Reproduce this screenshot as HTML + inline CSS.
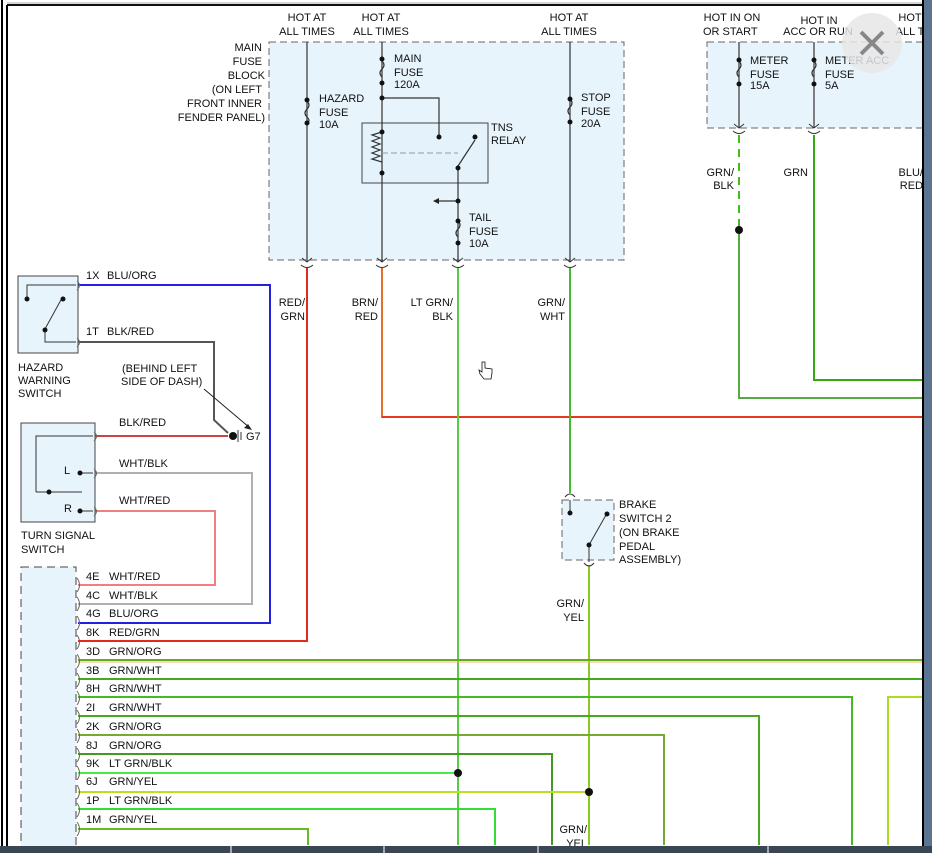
<!DOCTYPE html>
<html><head><meta charset="utf-8"><style>
html,body{margin:0;padding:0;background:#fff;width:932px;height:853px;overflow:hidden}
svg{display:block}
text{font-family:"Liberation Sans",sans-serif;font-size:11px;fill:#111}
</style></head><body>
<svg width="932" height="853" viewBox="0 0 932 853" xmlns="http://www.w3.org/2000/svg">
<rect x="0" y="0" width="932" height="853" fill="#fff"/>
<!-- frame -->
<line x1="2" y1="0" x2="2" y2="853" stroke="#000" stroke-width="2"/>
<line x1="7" y1="5" x2="7" y2="853" stroke="#000" stroke-width="2"/>
<line x1="7" y1="5" x2="932" y2="5" stroke="#111" stroke-width="2"/>
<line x1="7" y1="3" x2="932" y2="3" stroke="#aaa" stroke-width="1"/>

<!-- main fuse block -->
<rect x="269" y="42" width="355" height="218" fill="#e8f4fc" stroke="#666" stroke-dasharray="7,4"/>
<rect x="707" y="42" width="230" height="86" fill="#e8f4fc" stroke="#666" stroke-dasharray="7,4"/>
<rect x="362" y="123" width="126" height="60" fill="#e4f2fb" stroke="#444"/>

<g text-anchor="middle">
<text x="307" y="21">HOT AT</text><text x="307" y="35">ALL TIMES</text>
<text x="381" y="21">HOT AT</text><text x="381" y="35">ALL TIMES</text>
<text x="569" y="21">HOT AT</text><text x="569" y="35">ALL TIMES</text>
<text x="732" y="21">HOT IN ON</text>
<text x="819" y="24">HOT IN</text><text x="818" y="35">ACC OR RUN</text>
<text x="910" y="21">HOT</text><text x="910" y="35">ALL T</text>
</g>
<g text-anchor="end">
<text x="262" y="51">MAIN</text><text x="262" y="65">FUSE</text><text x="265" y="79">BLOCK</text>
<text x="262" y="93">(ON LEFT</text><text x="262" y="107">FRONT INNER</text><text x="265" y="121">FENDER PANEL)</text>
</g>
<text x="703" y="35">OR START</text>

<!-- inner wires -->
<g stroke="#333" stroke-width="1.2" fill="none">
<line x1="307" y1="42" x2="307" y2="262"/>
<line x1="382" y1="42" x2="382" y2="262"/>
<line x1="570" y1="42" x2="570" y2="262"/>
<line x1="458" y1="166" x2="458" y2="262"/>
<polyline points="382,98 439,98 439,137"/>
<line x1="458" y1="166" x2="475" y2="140"/>
<line x1="435" y1="201" x2="458" y2="201"/>
<line x1="739" y1="42" x2="739" y2="128"/>
<line x1="814" y1="42" x2="814" y2="128"/>
<path d="M382,132 l-10,3 l8,3 l-8,3 l8,3 l-8,3 l8,3 l-8,3 l8,3 l-8,3 l10,3"/>
<!-- fuses -->
<path d="M307,101 q4,4 0,8 q-4,4 0,8 q4,4 0,6"/>
<path d="M382,61 q4,4 0,8 q-4,4 0,8"/>
<path d="M458,221 q4,4 0,8 q-4,4 0,8"/>
<path d="M570,99 q4,4 0,8 q-4,4 0,8"/>
<path d="M739,61 q4,4 0,8 q-4,4 0,8"/>
<path d="M814,61 q4,4 0,8 q-4,4 0,8"/>
</g>
<line x1="382" y1="153" x2="458" y2="153" stroke="#999" stroke-dasharray="6,3"/>
<polygon points="433,201 439,198 439,204" fill="#222"/>
<g fill="#111">
<circle cx="307" cy="100" r="2.5"/><circle cx="307" cy="123" r="2.5"/>
<circle cx="382" cy="59" r="2.5"/><circle cx="382" cy="83" r="2.5"/><circle cx="382" cy="98" r="2.5"/>
<circle cx="382" cy="132" r="2.5"/><circle cx="382" cy="173" r="2.5"/>
<circle cx="439" cy="137" r="2.5"/><circle cx="475" cy="137" r="2.5"/><circle cx="458" cy="168" r="2.5"/>
<circle cx="458" cy="201" r="2.5"/><circle cx="458" cy="221" r="2.5"/><circle cx="458" cy="243" r="2.5"/>
<circle cx="570" cy="99" r="2.5"/><circle cx="570" cy="122" r="2.5"/>
<circle cx="739" cy="60" r="2.5"/><circle cx="739" cy="84" r="2.5"/>
<circle cx="814" cy="60" r="2.5"/><circle cx="814" cy="84" r="2.5"/>
</g>
<text x="319" y="102">HAZARD</text><text x="319" y="116">FUSE</text><text x="319" y="128">10A</text>
<text x="394" y="62">MAIN</text><text x="394" y="76">FUSE</text><text x="394" y="88">120A</text>
<text x="491" y="131">TNS</text><text x="491" y="144">RELAY</text>
<text x="469" y="221">TAIL</text><text x="469" y="235">FUSE</text><text x="469" y="247">10A</text>
<text x="581" y="101">STOP</text><text x="581" y="115">FUSE</text><text x="581" y="127">20A</text>
<text x="750" y="64">METER</text><text x="750" y="78">FUSE</text><text x="750" y="89">15A</text>
<text x="825" y="64">METER ACC</text><text x="825" y="78">FUSE</text><text x="825" y="89">5A</text>

<!-- connector symbols at block bottom -->
<g stroke="#333" fill="none" stroke-width="1">
<path d="M302,258 l5,4 l5,-4 M301,265 q6,5 12,0"/>
<path d="M377,258 l5,4 l5,-4 M376,265 q6,5 12,0"/>
<path d="M453,258 l5,4 l5,-4 M452,265 q6,5 12,0"/>
<path d="M565,258 l5,4 l5,-4 M564,265 q6,5 12,0"/>
<path d="M734,124 l5,4 l5,-4 M733,131 q6,5 12,0"/>
<path d="M809,124 l5,4 l5,-4 M808,131 q6,5 12,0"/>
</g>

<!-- colored wires -->
<g fill="none" stroke-width="2">
<polyline points="307,268 307,641 78,641" stroke="#e02a1a"/>
<polyline points="382,268 382,417 924,417" stroke="#e0702a"/>
<line x1="382" y1="417" x2="924" y2="417" stroke="#e53a1f"/>
<line x1="458" y1="268" x2="458" y2="845" stroke="#55cc44"/>
<line x1="570" y1="268" x2="570" y2="493" stroke="#44bb33"/>
<line x1="589" y1="565" x2="589" y2="845" stroke="#88cc22"/>
<line x1="739" y1="135" x2="739" y2="230" stroke="#44bb22" stroke-dasharray="8,6"/>
<polyline points="739,230 739,398 924,398" stroke="#55aa44"/>
<polyline points="814,135 814,380 924,380" stroke="#33aa11"/>
<polyline points="78,285 270,285 270,623 78,623" stroke="#2222dd"/>
<polyline points="78,342 214,342 214,420 228,433" stroke="#555"/>
<line x1="95" y1="436" x2="228" y2="436" stroke="#cc4444"/>
<polyline points="95,473 252,473 252,604 78,604" stroke="#b0b0b0"/>
<polyline points="95,511 215,511 215,585 78,585" stroke="#ee8080"/>
<line x1="78" y1="660" x2="924" y2="660" stroke="#66aa22"/>
<line x1="78" y1="662" x2="924" y2="662" stroke="#f0b070" stroke-width="1"/>
<line x1="78" y1="679" x2="924" y2="679" stroke="#44aa22"/>
<polyline points="78,697 852,697 852,845" stroke="#44bb22"/>
<polyline points="78,716 759,716 759,845" stroke="#44aa22"/>
<polyline points="78,735 664,735 664,845" stroke="#77aa33"/>
<polyline points="78,754 552,754 552,845" stroke="#449922"/>
<line x1="78" y1="773" x2="458" y2="773" stroke="#44ee44"/>
<line x1="78" y1="792" x2="589" y2="792" stroke="#bbdd22"/>
<polyline points="78,809 495,809 495,845" stroke="#33dd33"/>
<polyline points="78,829 308,829 308,845" stroke="#66bb22"/>
<polyline points="888,845 888,697 924,697" stroke="#aadd22"/>
</g>
<g fill="#111">
<circle cx="739" cy="230" r="4"/><circle cx="458" cy="773" r="4"/><circle cx="589" cy="792" r="4"/>
<circle cx="233" cy="436" r="4"/>
</g>
<line x1="238" y1="430" x2="238" y2="442" stroke="#333"/><line x1="241" y1="432" x2="241" y2="440" stroke="#333"/>
<line x1="204" y1="389" x2="250" y2="428" stroke="#222"/>
<polygon points="252,430 244,428 248,424" fill="#222"/>
<text x="246" y="440">G7</text>

<!-- wire labels -->
<g text-anchor="end">
<text x="305" y="306">RED/</text><text x="305" y="320">GRN</text>
<text x="378" y="306">BRN/</text><text x="378" y="320">RED</text>
<text x="453" y="306">LT GRN/</text><text x="453" y="320">BLK</text>
<text x="565" y="306">GRN/</text><text x="565" y="320">WHT</text>
<text x="734" y="176">GRN/</text><text x="734" y="189">BLK</text>
<text x="808" y="176">GRN</text>
<text x="923" y="176">BLU/</text><text x="923" y="189">RED</text>
<text x="584" y="607">GRN/</text><text x="584" y="621">YEL</text>
<text x="587" y="833">GRN/</text><text x="587" y="847">YEL</text>
</g>

<!-- hazard switch -->
<rect x="18" y="276" width="60" height="77" fill="#e8f4fc" stroke="#444"/>
<g stroke="#333" fill="none">
<polyline points="27,299 27,285 76,285"/><polyline points="45,329 45,342 76,342"/>
<line x1="45" y1="329" x2="62" y2="298"/>
</g>
<g fill="#111"><circle cx="27" cy="299" r="2.5"/><circle cx="63" cy="299" r="2.5"/><circle cx="45" cy="330" r="2.5"/></g>
<text x="86" y="279">1X</text><text x="107" y="279">BLU/ORG</text>
<text x="86" y="335">1T</text><text x="107" y="335">BLK/RED</text>
<text x="18" y="371">HAZARD</text><text x="18" y="384">WARNING</text><text x="18" y="397">SWITCH</text>
<text x="122" y="372">(BEHIND LEFT</text><text x="121" y="385">SIDE OF DASH)</text>

<!-- turn signal -->
<rect x="21" y="423" width="74" height="99" fill="#e8f4fc" stroke="#444"/>
<g stroke="#333" fill="none">
<polyline points="36,492 36,436 93,436"/><line x1="36" y1="492" x2="82" y2="492"/>
<line x1="80" y1="473" x2="93" y2="473"/><line x1="80" y1="511" x2="93" y2="511"/>
</g>
<g fill="#111"><circle cx="49" cy="492" r="2.5"/><circle cx="80" cy="473" r="2.5"/><circle cx="80" cy="511" r="2.5"/></g>
<text x="64" y="474">L</text><text x="64" y="512">R</text>
<text x="119" y="426">BLK/RED</text><text x="119" y="467">WHT/BLK</text><text x="119" y="504">WHT/RED</text>
<text x="21" y="539">TURN SIGNAL</text><text x="21" y="553">SWITCH</text>

<!-- brake switch -->
<rect x="562" y="500" width="52" height="60" fill="#e8f4fc" stroke="#666" stroke-dasharray="7,4"/>
<g stroke="#333" fill="none">
<line x1="570" y1="500" x2="570" y2="513"/><line x1="589" y1="545" x2="589" y2="562"/>
<line x1="589" y1="545" x2="606" y2="515"/>
<path d="M565,497 q5,-6 10,0 M584,563 q5,6 10,0"/>
</g>
<g fill="#111"><circle cx="570" cy="513" r="2.5"/><circle cx="607" cy="514" r="2.5"/><circle cx="589" cy="545" r="2.5"/></g>
<text x="619" y="508">BRAKE</text><text x="619" y="522">SWITCH 2</text><text x="619" y="536">(ON BRAKE</text><text x="619" y="550">PEDAL</text><text x="619" y="563">ASSEMBLY)</text>

<!-- connector block -->
<rect x="21" y="567" width="55" height="290" fill="#e8f4fc" stroke="#444" stroke-dasharray="8,5"/>
<g>
<text x="86" y="580">4E</text><text x="109" y="580">WHT/RED</text>
<text x="86" y="599">4C</text><text x="109" y="599">WHT/BLK</text>
<text x="86" y="617">4G</text><text x="109" y="617">BLU/ORG</text>
<text x="86" y="636">8K</text><text x="109" y="636">RED/GRN</text>
<text x="86" y="655">3D</text><text x="109" y="655">GRN/ORG</text>
<text x="86" y="674">3B</text><text x="109" y="674">GRN/WHT</text>
<text x="86" y="692">8H</text><text x="109" y="692">GRN/WHT</text>
<text x="86" y="711">2I</text><text x="109" y="711">GRN/WHT</text>
<text x="86" y="730">2K</text><text x="109" y="730">GRN/ORG</text>
<text x="86" y="749">8J</text><text x="109" y="749">GRN/ORG</text>
<text x="86" y="767">9K</text><text x="109" y="767">LT GRN/BLK</text>
<text x="86" y="785">6J</text><text x="109" y="785">GRN/YEL</text>
<text x="86" y="804">1P</text><text x="109" y="804">LT GRN/BLK</text>
<text x="86" y="823">1M</text><text x="109" y="823">GRN/YEL</text>
</g>
<g stroke="#666" fill="none">
<path d="M77,578 q5,7 0,14 M77,597 q5,7 0,14 M77,616 q5,7 0,14 M77,635 q5,7 0,14 M77,654 q5,7 0,14 M77,673 q5,7 0,14 M77,691 q5,7 0,14 M77,710 q5,7 0,14 M77,729 q5,7 0,14 M77,748 q5,7 0,14 M77,766 q5,7 0,14 M77,785 q5,7 0,14 M77,803 q5,7 0,14 M77,822 q5,7 0,14"/>
<path d="M77,281 q5,4 0,9 M77,338 q5,4 0,9 M94,432 q5,4 0,9 M94,469 q5,4 0,9 M94,507 q5,4 0,9"/>
</g>

<!-- cursor -->
<path d="M482,362 l0,10 l-3,-2 l1,4 l4,5 l7,0 l1,-6 l0,-4 l-7,-1 l0,-6 z" fill="#fff" stroke="#111" stroke-width="0.8"/>

<!-- close button overlay -->
<circle cx="872" cy="43" r="30" fill="#e6e6e6" opacity="0.85"/>
<path d="M861,32 L883,54 M883,32 L861,54" stroke="#888" stroke-width="4"/>

<!-- right & bottom chrome -->
<line x1="923" y1="0" x2="923" y2="853" stroke="#000" stroke-width="2"/>
<rect x="924" y="0" width="8" height="853" fill="#5b7590"/>
<rect x="0" y="846" width="932" height="7" fill="#3b4655"/>
<g stroke="#c8c8c8" stroke-width="1.5">
<line x1="231" y1="846" x2="231" y2="853"/><line x1="384" y1="846" x2="384" y2="853"/>
<line x1="538" y1="846" x2="538" y2="853"/><line x1="768" y1="846" x2="768" y2="853"/>
</g>
</svg>
</body></html>
